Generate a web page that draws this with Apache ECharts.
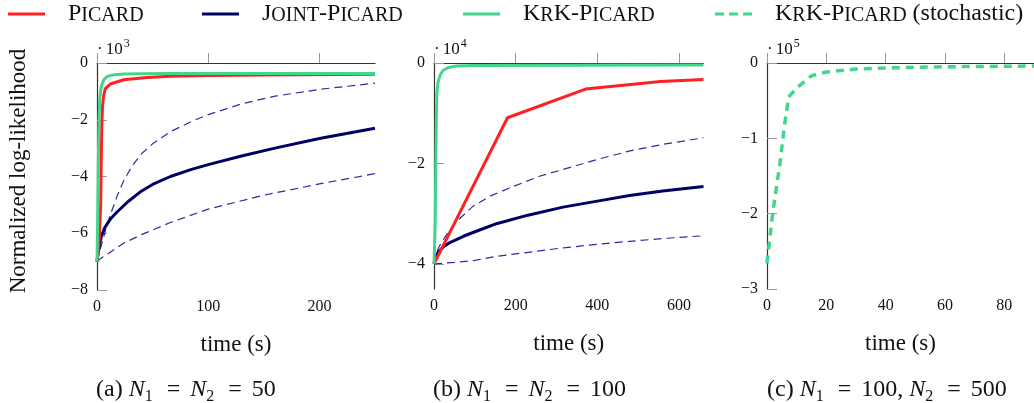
<!DOCTYPE html>
<html>
<head>
<meta charset="utf-8">
<script src="https://cdn.jsdelivr.net/npm/echarts@6/dist/echarts.min.js"></script>
<style>
  html, body { margin: 0; padding: 0; background: #fff; }
  #chart { width: 1034px; height: 403px; }
</style>
</head>
<body>
<div id="chart"></div>
<script>
// (a) N1 = N2 = 50, values in 10^3
const aKrk = [[0, -7], [0.6, -5.5], [1.2, -3.5], [1.8, -2], [2.6, -1.2], [4, -0.8], [6, -0.6], [9, -0.48], [14, -0.42], [24, -0.39], [60, -0.37], [250, -0.37]]
const aPicard = [[0, -7], [2, -6.2], [3.3, -5], [3.8, -3.5], [4.3, -2.2], [5, -1.5], [6, -1.15], [7.5, -0.9], [12, -0.74], [24, -0.59], [45, -0.51], [66, -0.47], [100, -0.44], [150, -0.42], [250, -0.4]]
const aJoint = [[0, -7], [1, -6.7], [2.5, -6.35], [4, -6.1], [7, -5.8], [12, -5.5], [18, -5.25], [28, -4.88], [39, -4.54], [50, -4.28], [66, -4.0], [85, -3.75], [100, -3.58], [130, -3.28], [160, -3.0], [200, -2.66], [250, -2.3]]
const aJointHi = [[0, -7], [3, -6.55], [8, -5.85], [12, -5.35], [18, -4.7], [24, -4.15], [32, -3.6], [40, -3.2], [50, -2.85], [66, -2.42], [85, -2.06], [100, -1.82], [130, -1.44], [160, -1.17], [200, -0.93], [250, -0.71]]
const aJointLo = [[0, -7], [3, -6.9], [10, -6.72], [24, -6.35], [40, -6.05], [66, -5.62], [100, -5.15], [150, -4.66], [200, -4.26], [250, -3.9]]

// (b) N1 = N2 = 100, values in 10^4
const bKrk = [[0, -4], [3, -3.2], [4.5, -2], [5.5, -1.2], [7, -0.6], [10, -0.38], [15, -0.24], [22, -0.15], [35, -0.09], [55, -0.06], [100, -0.05], [660, -0.04]]
const bPicard = [[0, -4], [180, -1.09], [371, -0.52], [555, -0.37], [660, -0.33]]
const bJoint = [[0, -4], [3, -3.88], [10, -3.77], [23, -3.66], [40, -3.57], [72, -3.45], [110, -3.33], [153, -3.2], [230, -3.03], [316, -2.87], [400, -2.75], [479, -2.64], [560, -2.55], [660, -2.46]]
const bJointHi = [[0, -4], [10, -3.7], [20, -3.55], [39, -3.32], [60, -3.12], [96, -2.85], [140, -2.64], [194, -2.46], [260, -2.25], [341, -2.06], [400, -1.92], [480, -1.75], [560, -1.62], [660, -1.49]]
const bJointLo = [[0, -4], [50, -3.97], [100, -3.93], [153, -3.85], [230, -3.77], [317, -3.68], [400, -3.61], [480, -3.55], [570, -3.49], [660, -3.44]]

// (c) N1 = 100, N2 = 500, values in 10^5
const cKrkStoch = [[0, -2.66], [2, -1.97], [4.3, -1.35], [6, -0.8], [7.3, -0.45], [10, -0.33], [15, -0.17], [20, -0.12], [30, -0.08], [40, -0.065], [60, -0.05], [90, -0.04]]

// ticks
const aXTicks = [0, 100, 200]
const bXTicks = [0, 200, 400, 600]
const cXTicks = [0, 20, 40, 60, 80]
const bYTicks = [-4, -2, 0]

const RED = '#ff2121'
const NAVY = '#000066'
const GREEN = '#40d68c'
const BLUE = '#2b2ba6'
const SERIF = '"Liberation Serif", "Times New Roman", serif'

const chart = echarts.init(document.getElementById('chart'))

const minus = v => (v < 0 ? '\u2212' + (-v) : '' + v)

// 坐标轴公共样式
function xAxis(idx, max, ticks) {
  return {
    type: 'value', gridIndex: idx, min: 0, max: max,
    name: 'time (s)', nameLocation: 'middle', nameGap: 43,
    nameTextStyle: { fontFamily: SERIF, fontSize: 23, color: '#111' },
    axisLine: { lineStyle: { color: '#333', width: 1.2 } },
    axisTick: { inside: true, length: 10, lineStyle: { color: '#999' }, customValues: ticks },
    axisLabel: { fontFamily: SERIF, fontSize: 16, color: '#111', margin: 9, customValues: ticks },
    splitLine: { show: false }
  }
}
function yAxis(idx, min, interval, ticks) {
  const ax = {
    type: 'value', gridIndex: idx, min: min, max: 0,
    axisLine: { show: true, lineStyle: { color: '#333', width: 1.2 } },
    axisTick: { show: true, inside: true, length: 10, lineStyle: { color: '#999' } },
    axisLabel: { fontFamily: SERIF, fontSize: 16, color: '#111', margin: 9, formatter: minus },
    splitLine: { show: false }
  }
  if (interval) ax.interval = interval
  if (ticks) {
    ax.axisTick.customValues = ticks
    ax.axisLabel.customValues = ticks
  }
  return ax
}

function line(name, data, xi, color, width, dash, z) {
  return {
    name: name, type: 'line', xAxisIndex: xi, yAxisIndex: xi, data: data,
    symbol: 'none', z: z,
    lineStyle: { color: color, width: width, type: dash || 'solid' },
    itemStyle: { color: color }
  }
}

const legendRich = {
  L: { fontFamily: SERIF, fontSize: 24, lineHeight: 24, verticalAlign: 'bottom', color: '#111' },
  S: { fontFamily: SERIF, fontSize: 20, lineHeight: 20, verticalAlign: 'bottom', color: '#111' }
}
const legendText = {
  'Picard': '{L|P}{S|ICARD}',
  'Joint-Picard': '{L|J}{S|OINT}{L|-P}{S|ICARD}',
  'KrK-Picard': '{L|K}{S|R}{L|K-P}{S|ICARD}',
  'KrK-Picard (stochastic)': '{L|K}{S|R}{L|K-P}{S|ICARD}{L| (stochastic)}'
}
const SOLID_ICON = 'path://M0,0H37V3H0Z'
const DASH_ICON = 'path://M0,0H9V3H0Z M14,0H23V3H14Z M28,0H37V3H28Z'
function legend(name, left, icon) {
  return {
    data: [{ name: name, icon: icon }], left: left, top: 2, padding: 0,
    itemWidth: 37, itemHeight: 3, selectedMode: false,
    itemStyle: { borderWidth: 0 },
    formatter: n => legendText[n],
    textStyle: { rich: legendRich, padding: [0, 0, 0, 18] }
  }
}

const capRich = {
  t: { fontFamily: SERIF, fontSize: 24, lineHeight: 24, fontWeight: 'normal', verticalAlign: 'top', color: '#111' },
  i: { fontFamily: SERIF, fontSize: 24, lineHeight: 24, fontWeight: 'normal', fontStyle: 'italic', verticalAlign: 'top', color: '#111' },
  s: { fontFamily: SERIF, fontSize: 16, lineHeight: 16, fontWeight: 'normal', verticalAlign: 'top', padding: [11, 4, 0, 0], color: '#111' },
  e: { fontFamily: SERIF, fontSize: 24, lineHeight: 24, fontWeight: 'normal', verticalAlign: 'top', padding: [0, 10, 0, 10], color: '#111' }
}
const expRich = {
  d: { fontFamily: SERIF, fontSize: 17, lineHeight: 17, fontWeight: 'normal', verticalAlign: 'top', padding: [5, 3, 0, 0], color: '#111' },
  m: { fontFamily: SERIF, fontSize: 17, lineHeight: 17, fontWeight: 'normal', verticalAlign: 'top', padding: [5, 0, 0, 0], color: '#111' },
  p: { fontFamily: SERIF, fontSize: 12, lineHeight: 12, fontWeight: 'normal', verticalAlign: 'top', padding: [2, 0, 0, 1], color: '#111' }
}
function title(text, left, top, rich) {
  return { text: text, left: left, top: top, padding: 0, textStyle: { fontWeight: 'normal', rich: rich } }
}

chart.setOption({
  animation: false,
  title: [
    title('{d|\u00b7}{m|10}{p|3}', 97, 36, expRich),
    title('{d|\u00b7}{m|10}{p|4}', 434, 36, expRich),
    title('{d|\u00b7}{m|10}{p|5}', 767, 36, expRich),
    title('{t|(a) }{i|N}{s|1}{e|=}{i|N}{s|2}{e|=}{t|50}', 96, 378, capRich),
    title('{t|(b) }{i|N}{s|1}{e|=}{i|N}{s|2}{e|=}{t|100}', 433, 378, capRich),
    title('{t|(c) }{i|N}{s|1}{e|=}{t|100, }{i|N}{s|2}{e|=}{t|500}', 767, 378, capRich)
  ],
  legend: [
    legend('Picard', 8, SOLID_ICON),
    legend('Joint-Picard', 202, SOLID_ICON),
    legend('KrK-Picard', 463, SOLID_ICON),
    legend('KrK-Picard (stochastic)', 715, DASH_ICON)
  ],
  grid: [
    { left: 97, top: 63, width: 278, height: 227 },
    { left: 434, top: 63, width: 269.5, height: 226 },
    { left: 767, top: 63, width: 267, height: 226 }
  ],
  xAxis: [
    xAxis(0, 250, aXTicks),
    xAxis(1, 660, bXTicks),
    xAxis(2, 90, cXTicks)
  ],
  yAxis: [
    yAxis(0, -8, 2),
    yAxis(1, -4.5, null, bYTicks),
    yAxis(2, -3, 1)
  ],
  graphic: [{
    type: 'text', x: 19, y: 171, rotation: Math.PI / 2,
    style: { text: 'Normalized log-likelihood', font: '23px ' + SERIF, fill: '#111', align: 'center', verticalAlign: 'middle' }
  }],
  series: [
    line('', aJointHi, 0, BLUE, 1.2, [8, 5], 1),
    line('', aJointLo, 0, BLUE, 1.2, [8, 5], 1),
    line('Joint-Picard', aJoint, 0, NAVY, 3, null, 2),
    line('Picard', aPicard, 0, RED, 3, null, 3),
    line('KrK-Picard', aKrk, 0, GREEN, 3, null, 4),

    line('', bJointHi, 1, BLUE, 1.2, [8, 5], 1),
    line('', bJointLo, 1, BLUE, 1.2, [8, 5], 1),
    line('Joint-Picard', bJoint, 1, NAVY, 3, null, 2),
    line('Picard', bPicard, 1, RED, 3, null, 3),
    line('KrK-Picard', bKrk, 1, GREEN, 3, null, 4),

    line('KrK-Picard (stochastic)', cKrkStoch, 2, GREEN, 3.5, [8, 6], 4)
  ]
})
</script>
</body>
</html>
